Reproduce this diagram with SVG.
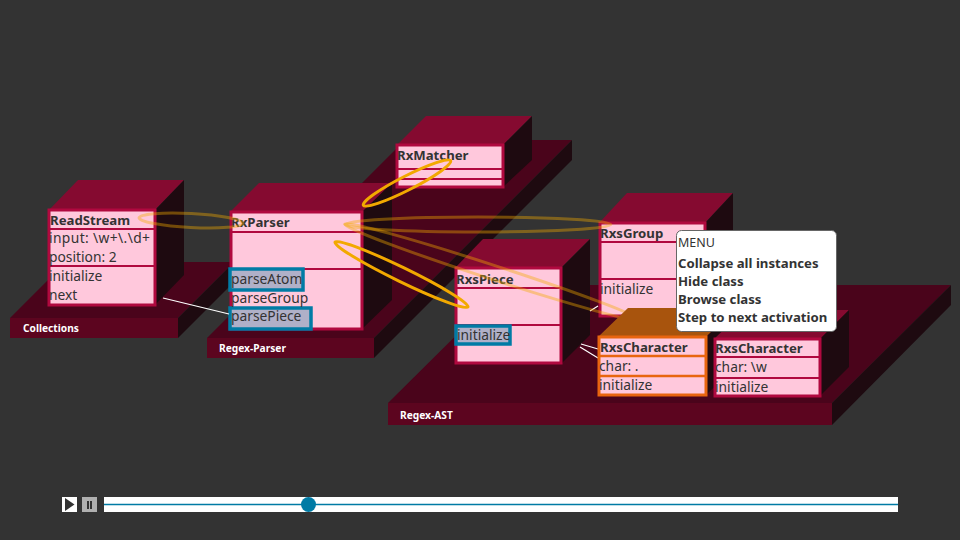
<svg xmlns="http://www.w3.org/2000/svg" width="960" height="540" viewBox="0 0 960 540">
<style>
text{font-family:"Noto Sans","Open Sans",sans-serif;fill:#333;font-size:13.800px}
.b{font-weight:700;font-size:13.200px}
.pl{font-weight:700;font-size:10.200px;fill:#fff}
.ptop{fill:#4a041b}.pfront{fill:#5c051f}.side{fill:#1e0a10}
.top{fill:#850a30}
.box{fill:#ffc8dc;stroke:#b0093f;stroke-width:3}
.div{stroke:#b0093f;stroke-width:2;fill:none}
.otop{fill:#a8540d}
.obox{fill:#ffc8dc;stroke:#e8650f;stroke-width:3}
.odiv{stroke:#e8650f;stroke-width:2.500;fill:none}
.hl{fill:#b0b0c8;stroke:#007ba5;stroke-width:3.500}
.wire{stroke:#fff;stroke-width:1.200;fill:none}
.hot{fill:none;stroke:#f2a900;stroke-width:3}
.faded{fill:none;stroke:#f2a900;stroke-width:3;opacity:.4}
</style>
<rect width="960" height="540" fill="#333"/>
<g id="pkg-collections">
<polygon class="ptop" points="10,318 178,318 234,262 66,262"/>
<polygon class="side" points="178,318 234,262 234,282 178,338"/>
<rect class="pfront" x="10" y="318" width="168" height="20"/>
<text class="pl" x="23" y="332">Collections</text>
</g>
<g id="pkg-regex-parser">
<polygon class="ptop" points="207,338 374,338 572,140 405,140"/>
<polygon class="side" points="374,338 572,140 572,160 374,358"/>
<rect class="pfront" x="207" y="338" width="167" height="20"/>
<text class="pl" x="219" y="352">Regex-Parser</text>
</g>
<g id="pkg-regex-ast">
<polygon class="ptop" points="388,403 832,403 951,285 507,285"/>
<polygon class="side" points="832,403 951,285 951,305 832,425"/>
<rect class="pfront" x="388" y="403" width="444" height="22"/>
<text class="pl" x="400" y="419">Regex-AST</text>
</g>
<g id="node-readstream">
<polygon class="top" points="49,210 78,180 184,180 155,210"/>
<polygon class="side" points="155,210 184,180 184,275 155,305"/>
<rect class="box" x="49" y="210" width="106" height="95"/>
<path class="div" d="M49 229H155M49 266H155"/>
<text class="b" x="50" y="225">ReadStream</text>
<text x="49" y="243" textLength="101">input: \w+\.\d+</text>
<text x="49" y="262">position: 2</text>
<text x="49" y="281">initialize</text>
<text x="49" y="300">next</text>
</g>
<g id="node-rxmatcher">
<polygon class="top" points="397,145 426,116 532,116 503,145"/>
<polygon class="side" points="503,145 532,116 532,160 503,187"/>
<rect class="box" x="397" y="145" width="106" height="42"/>
<path class="div" d="M397 169H503M397 179H503"/>
<text class="b" x="397" y="160">RxMatcher</text>
</g>
<g id="node-rxparser">
<polygon class="top" points="230,212 259,183 392,183 362,212"/>
<polygon class="side" points="362,212 392,183 392,300 362,329"/>
<rect class="box" x="231" y="212" width="131" height="117"/>
<path class="div" d="M231 232H362M231 269H362"/>
<rect class="hl" x="230" y="269" width="73" height="21"/>
<rect class="hl" x="230" y="308" width="81" height="21"/>
<text class="b" x="231" y="227">RxParser</text>
<text x="231" y="284">parseAtom</text>
<text x="231" y="303">parseGroup</text>
<text x="231" y="321">parsePiece</text>
</g>
<g id="node-rxspiece">
<polygon class="top" points="455,268 483,239 590,239 561,268"/>
<polygon class="side" points="561,268 590,239 590,335 561,364"/>
<rect class="box" x="456" y="268" width="105" height="95"/>
<path class="div" d="M456 288H561M456 325H561"/>
<rect class="hl" x="456" y="326" width="54" height="18"/>
<text class="b" x="456" y="284">RxsPiece</text>
<text x="457" y="340">initialize</text>
</g>
<g id="node-rxsgroup">
<polygon class="top" points="599,223 627,193 733,193 705,223"/>
<polygon class="side" points="705,223 733,193 733,290 705,316"/>
<rect class="box" x="600" y="223" width="105" height="93"/>
<path class="div" d="M600 242H705M600 279H705"/>
<text class="b" x="600" y="238">RxsGroup</text>
<text x="600" y="294">initialize</text>
</g>
<g id="connectors">
<path class="wire" d="M163 298L229 314M581 344L598 349M580 347L598 358M590 311L598 306"/>
<ellipse class="hot" cx="407" cy="183" rx="49" ry="7" transform="rotate(-27 407 183)"/>
<ellipse class="hot" cx="401.500" cy="274.500" rx="74" ry="7" transform="rotate(26 401.500 274.500)"/>
<ellipse class="faded" cx="191" cy="220.500" rx="52" ry="7" transform="rotate(3 191 220.500)"/>
<ellipse class="faded" cx="478" cy="224.500" rx="133" ry="7.500"/>
<ellipse class="faded" cx="492" cy="272" rx="155" ry="7" transform="rotate(18 492 272)"/>
</g>
<g id="node-rxscharacter-dot">
<polygon class="otop" points="598,337 628,308 736,308 706,337"/>
<polygon class="side" points="706,337 736,308 736,366 706,395"/>
<rect class="obox" x="599" y="337" width="107" height="58"/>
<path class="odiv" d="M599 356H706M599 376H706"/>
<text class="b" x="600" y="352">RxsCharacter</text>
<text x="599" y="371">char: .</text>
<text x="599" y="390">initialize</text>
</g>
<g id="node-rxscharacter-w">
<polygon class="top" points="714,339 744,310 849,310 820,339"/>
<polygon class="side" points="820,339 849,310 849,367 820,396"/>
<rect class="box" x="715" y="339" width="105" height="57"/>
<path class="div" d="M715 357H820M715 378H820"/>
<text class="b" x="715" y="353">RxsCharacter</text>
<text x="715" y="372">char: \w</text>
<text x="715" y="392">initialize</text>
</g>
<g id="menu">
<rect x="676.500" y="230.500" width="160" height="101" rx="5" fill="#fff" stroke="#666"/>
<text x="678" y="247" style="font-size:12.500px">MENU</text>
<text class="b" x="678" y="268">Collapse all instances</text>
<text class="b" x="678" y="286">Hide class</text>
<text class="b" x="678" y="304">Browse class</text>
<text class="b" x="678" y="322">Step to next activation</text>
</g>
<g id="controls">
<rect x="62" y="497" width="15" height="15" fill="#fff"/>
<polygon points="65,498 74.500,504.500 65,511" fill="#333"/>
<rect x="82" y="497" width="15" height="15" fill="#b0b0b0"/>
<path d="M88 501V509M91 501V509" stroke="#333" stroke-width="2"/>
<rect x="104" y="497" width="794" height="15" fill="#fff"/>
<path d="M104 504.500H898" stroke="#007ba5" stroke-width="1.500"/>
<circle cx="308.500" cy="504.500" r="7.500" fill="#007ba5"/>
</g>
</svg>
